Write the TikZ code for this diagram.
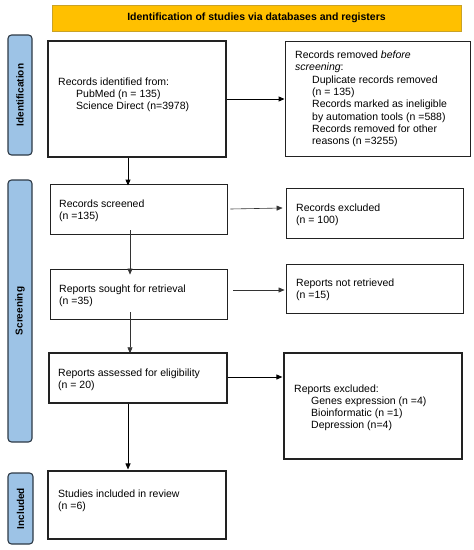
\documentclass[tikz,border=0pt]{standalone}
\usepackage{fontspec}
\setmainfont{Liberation Sans}
\usetikzlibrary{arrows.meta}
\definecolor{banner}{HTML}{FFC000}
\definecolor{bannerline}{HTML}{C9A227}
\definecolor{sidefill}{HTML}{9DC3E6}
\definecolor{sideline}{HTML}{2E3A46}
\definecolor{boxline}{HTML}{222222}
\begin{document}
\begin{tikzpicture}[x=1pt,y=-1pt,
  box/.style={draw=boxline,line width=0.9pt,inner sep=0pt},
  thickbox/.style={box,line width=1.6pt},
  side/.style={draw=sideline,fill=sidefill,line width=1.1pt,rounded corners=3.5pt,inner sep=0pt},
  sidetext/.style={font=\fontsize{10}{12}\selectfont\bfseries,rotate=90,inner sep=0pt},
  txt/.style={font=\fontsize{10.5}{12.3}\selectfont,align=left,inner sep=0pt,anchor=base west},
  arr/.style={-{Triangle[length=6pt,width=5pt]},line width=0.9pt,draw=black},
  thinarr/.style={-{Triangle[length=6pt,width=5pt]},line width=0.6pt,draw=black!80}
]
\useasboundingbox (0,0) rectangle (474,550);

% banner
\node[draw=bannerline,fill=banner,line width=0.8pt,minimum width=409pt,minimum height=26pt,inner sep=0pt,
  font=\fontsize{10.5}{12}\selectfont\bfseries] (banner) at (256.5,18) {Identification of studies via databases and registers};

% side bars
\node[side,minimum width=24pt,minimum height=120pt] (sid) at (20,95) {};
\node[sidetext] (sidt) at (sid.center) {Identification};
\node[side,minimum width=24pt,minimum height=262pt] (sscr) at (20,311) {};
\node[sidetext] (sscrt) at (sscr.center) {Screening};
\node[side,minimum width=25pt,minimum height=71pt] (sinc) at (20.5,508.5) {};
\node[sidetext] (sinct) at (sinc.center) {Included};

% boxes
\node[thickbox,minimum width=178pt,minimum height=116pt] (box1) at (137,99) {};
\node[box,minimum width=185pt,minimum height=115pt] (box2) at (377.5,98.5) {};
\node[box,minimum width=177pt,minimum height=50pt] (screened) at (138.5,209) {};
\node[box,minimum width=177pt,minimum height=50pt] (excluded) at (374.5,213) {};
\node[box,minimum width=177pt,minimum height=50pt] (sought) at (138.5,294) {};
\node[box,minimum width=177pt,minimum height=49pt] (notretr) at (374.5,288.5) {};
\node[thickbox,line width=1.4pt,minimum width=178pt,minimum height=50pt] (assessed) at (138,378) {};
\node[box,line width=1.2pt,minimum width=178pt,minimum height=106pt] (repexcl) at (373,406) {};
\node[box,line width=1.1pt,minimum width=178pt,minimum height=68pt] (included) at (137,505) {};

% texts (anchored at the baseline of the last line)
\node[txt] (t1) at (58,109.6) {Records identified from:\\\hspace*{18pt}PubMed (n = 135)\\\hspace*{18pt}Science Direct (n=3978)};
\node[txt] (t2) at (295,144.6) {Records removed \textit{before}\\\textit{screening}:\\\hspace*{17pt}Duplicate records removed\\\hspace*{17pt}(n = 135)\\\hspace*{17pt}Records marked as ineligible\\\hspace*{17pt}by automation tools (n =588)\\\hspace*{17pt}Records removed for other\\\hspace*{17pt}reasons (n =3255)};
\node[txt] (t3) at (59,219.3) {Records screened\\(n =135)};
\node[txt] (t4) at (296,223.3) {Records excluded\\(n = 100)};
\node[txt] (t5) at (59,304.3) {Reports sought for retrieval\\(n =35)};
\node[txt] (t6) at (296,298.3) {Reports not retrieved\\(n =15)};
\node[txt] (t7) at (58,388.3) {Reports assessed for eligibility\\(n = 20)};
\node[txt,font=\fontsize{10.5}{12}\selectfont] (t8) at (294,428) {Reports excluded:\\\hspace*{17pt}Genes expression (n =4)\\\hspace*{17pt}Bioinformatic (n =1)\\\hspace*{17pt}Depression (n=4)};
\node[txt] (t9) at (58,509.3) {Studies included in review\\(n =6)};

% connectors
\draw[arr] (box1.east) -- (box1.east -| box2.west);
\draw[arr] ([xshift=-9pt]box1.south) -- ([xshift=-9pt,yshift=-2pt]box1.south |- screened.north);
\draw[thinarr] ([xshift=3pt]screened.east) -- ([xshift=-3pt,yshift=1pt]screened.east -| excluded.west);
\draw[thinarr] ([xshift=-8.5pt,yshift=4pt]screened.south) -- ([xshift=-8.5pt,yshift=-6pt]screened.south |- sought.north);
\draw[thinarr] ([xshift=6pt,yshift=4pt]sought.east) -- ([xshift=-1pt,yshift=4pt]sought.east -| notretr.west);
\draw[thinarr] ([xshift=-8.5pt,yshift=7pt]sought.south) -- ([xshift=-8.5pt,yshift=-1pt]sought.south |- assessed.north);
\draw[arr] ([yshift=1pt]assessed.east) -- ([xshift=-1pt,yshift=1pt]assessed.east -| repexcl.west);
\draw[arr] ([xshift=-10pt]assessed.south) -- ([xshift=-10pt,yshift=1pt]assessed.south |- included.north);
\end{tikzpicture}
\end{document}
